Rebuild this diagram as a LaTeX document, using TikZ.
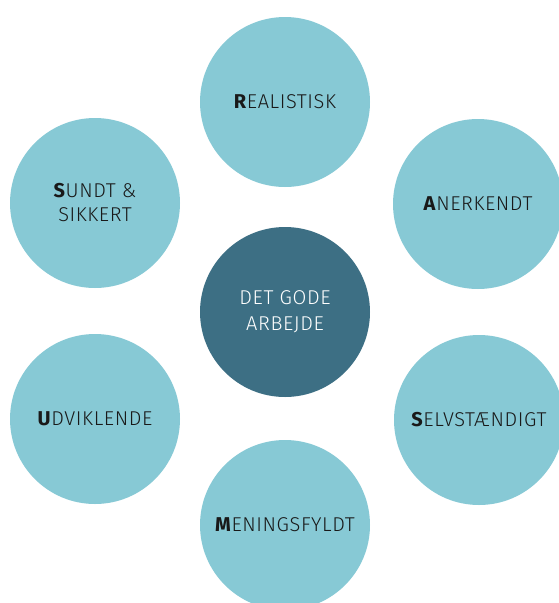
\documentclass[tikz,border=0pt]{standalone}
\usepackage{fontspec}
\setmainfont{Fira Sans}[UprightFont={* Light},BoldFont={* Bold},LetterSpace=3]
\definecolor{lightc}{RGB}{135,201,213}
\definecolor{darkc}{RGB}{61,111,132}
\definecolor{txt}{RGB}{25,25,25}
\begin{document}
\begin{tikzpicture}[x=1pt,y=-1pt,
  bub/.style={circle,fill=lightc,minimum size=170pt,inner sep=0pt,text=txt,font=\fontsize{20}{24}\selectfont,align=center},
  hub/.style={bub,fill=darkc,text=white}]
\useasboundingbox (0,0) rectangle (559,603);
\node[hub] (c) at (285,312) {DET GODE\\[2pt]ARBEJDE};
\node[bub] (r) at (285,102) {\textbf{R}EALISTISK};
\node[bub] (a) at (478,204) {\textbf{A}NERKENDT};
\node[bub] (s2) at (479,420) {\textbf{S}ELVSTÆNDIGT};
\node[bub] (m) at (285,525) {\textbf{M}ENINGSFYLDT};
\node[bub] (u) at (95,419) {\textbf{U}DVIKLENDE};
\node[bub] (s1) at (95,203) {\textbf{S}UNDT \&\\SIKKERT};
\end{tikzpicture}
\end{document}
